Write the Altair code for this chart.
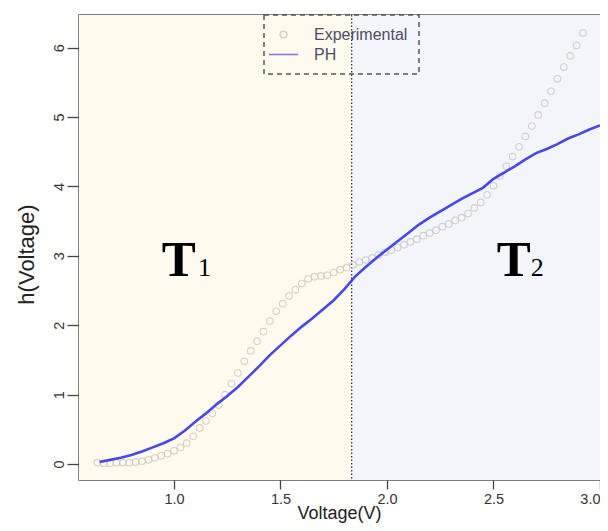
import altair as alt
import pandas as pd

# Experimental measurements
exp_v = [0.64, 0.67, 0.70, 0.73, 0.76, 0.79, 0.82, 0.85, 0.88, 0.91,
         0.94, 0.97, 1.00, 1.03, 1.06, 1.09, 1.12, 1.15, 1.18, 1.21,
         1.24, 1.27, 1.30, 1.33, 1.36, 1.39, 1.42, 1.45, 1.48, 1.51,
         1.54, 1.57, 1.60, 1.63, 1.66, 1.69, 1.72, 1.75, 1.78, 1.81,
         1.84, 1.87, 1.90, 1.93, 1.96, 1.99, 2.02, 2.05, 2.08, 2.11,
         2.14, 2.17, 2.20, 2.23, 2.26, 2.29, 2.32, 2.35, 2.38, 2.41,
         2.44, 2.47, 2.50, 2.53, 2.56, 2.59, 2.62, 2.65, 2.68, 2.71,
         2.74, 2.77, 2.80, 2.83, 2.86, 2.89, 2.92]
exp_h = [0.02, 0.01, 0.01, 0.02, 0.02, 0.02, 0.03, 0.04, 0.06, 0.09,
         0.12, 0.15, 0.19, 0.24, 0.30, 0.40, 0.52, 0.62, 0.73, 0.85,
         1.00, 1.16, 1.31, 1.48, 1.63, 1.77, 1.91, 2.06, 2.20, 2.31,
         2.42, 2.51, 2.60, 2.67, 2.70, 2.71, 2.72, 2.76, 2.80, 2.83,
         2.87, 2.91, 2.94, 2.97, 3.01, 3.05, 3.08, 3.12, 3.16, 3.20,
         3.24, 3.29, 3.33, 3.37, 3.42, 3.46, 3.51, 3.55, 3.61, 3.69,
         3.77, 3.88, 4.01, 4.15, 4.29, 4.43, 4.57, 4.72, 4.87, 5.03,
         5.20, 5.37, 5.55, 5.72, 5.88, 6.03, 6.21]

# PH model curve
ph_v = [0.65, 0.70, 0.75, 0.80, 0.85, 0.90, 0.95, 1.00,
        1.05, 1.10, 1.15, 1.20, 1.25, 1.30, 1.35, 1.40,
        1.45, 1.50, 1.55, 1.60, 1.65, 1.70, 1.75, 1.80,
        1.85, 1.90, 1.95, 2.00, 2.05, 2.10, 2.15, 2.20,
        2.25, 2.30, 2.35, 2.40, 2.45, 2.50, 2.55, 2.60,
        2.65, 2.70, 2.75, 2.80, 2.85, 2.90, 2.95, 3.00]
ph_h = [0.03, 0.06, 0.09, 0.13, 0.18, 0.24, 0.30, 0.37,
        0.48, 0.61, 0.73, 0.86, 0.98, 1.11, 1.26, 1.41,
        1.57, 1.71, 1.85, 1.98, 2.10, 2.23, 2.36, 2.52,
        2.70, 2.84, 2.97, 3.09, 3.21, 3.33, 3.45, 3.55,
        3.64, 3.73, 3.82, 3.90, 3.98, 4.11, 4.20, 4.29,
        4.39, 4.48, 4.54, 4.61, 4.69, 4.75, 4.82, 4.88]

series_names = ["Experimental", "PH"]
x_domain = [0.554, 3.0]
y_domain = [-0.23, 6.47]
split_v = 1.834
x_ticks = [1.0, 1.5, 2.0, 2.5, 3.0]
y_ticks = [0, 1, 2, 3, 4, 5, 6]

left_df = pd.DataFrame({"x0": [x_domain[0]], "x1": [split_v]})
right_df = pd.DataFrame({"x0": [split_v], "x1": [x_domain[1]]})
exp_df = pd.DataFrame({"v": exp_v, "h": exp_h, "series": "Experimental"})
ph_df = pd.DataFrame({"v": ph_v, "h": ph_h})
split_df = pd.DataFrame({"v": [split_v]})
big_df = pd.DataFrame({"v": [0.942, 2.515], "h": [2.713, 2.713], "t": ["T", "T"]})
sub_df = pd.DataFrame({"v": [1.113, 2.675], "h": [2.713, 2.713], "t": ["1", "2"]})

W, H = 521, 465
FONT = "Liberation Sans"
BLUE = "#4747EE"
GREY = "#c6c1bb"

xs = alt.Scale(domain=x_domain, nice=False, zero=False)
ys = alt.Scale(domain=y_domain, nice=False, zero=False)

x_axis = alt.Axis(values=x_ticks, format=".1f", title="Voltage(V)", grid=False,
                  domain=False, tickSize=9, tickColor="#444", tickWidth=1.3,
                  labelFontSize=14.5, labelColor="#333", labelFont=FONT,
                  labelPadding=14, labelBaseline="alphabetic", labelFlush=True,
                  titleFont=FONT, titleFontSize=18, titleFontWeight="normal",
                  titleColor="#222", titleX=260, titleY=38,
                  titleBaseline="alphabetic", titleAlign="center")
y_axis = alt.Axis(values=y_ticks, format="d", title="h(Voltage)", grid=False,
                  domain=False, tickSize=12, tickColor="#444", tickWidth=1.3,
                  labelFontSize=14.5, labelColor="#333", labelFont=FONT,
                  labelAngle=-90, labelAlign="center", labelBaseline="alphabetic",
                  labelPadding=4, labelFlush=False,
                  titleFont=FONT, titleFontSize=22, titleFontWeight="normal",
                  titleColor="#222", titleAngle=-90, titleX=-46, titleY=239,
                  titleBaseline="alphabetic", titleAlign="center")

bg_left = alt.Chart(left_df).mark_rect(color="#FFFAEE").encode(
    x=alt.X("x0:Q", scale=xs, axis=x_axis),
    x2="x1:Q",
    y=alt.value(0),
    y2=alt.value(H),
)
bg_right = alt.Chart(right_df).mark_rect(color="#F3F5FB").encode(
    x=alt.X("x0:Q", scale=xs),
    x2="x1:Q",
    y=alt.value(0),
    y2=alt.value(H),
)

vline = alt.Chart(split_df).mark_rule(color="#333", strokeDash=[1.5, 2], strokeWidth=1.3).encode(
    x=alt.X("v:Q", scale=xs),
    y=alt.value(0),
    y2=alt.value(H),
)

circle_path = "M-0.44,0A0.44,0.44,0,1,1,0.44,0A0.44,0.44,0,1,1,-0.44,0Z"
line_path = "M-1.95,0H1.95"

leg = alt.Legend(title=None, orient="none", legendX=185, legendY=0,
                 padding=11, rowPadding=3, symbolSize=225, labelOffset=22,
                 labelFont=FONT, labelFontSize=16, labelColor="#4f4c63",
                 symbolStrokeWidth=1.6, strokeColor="#555")

points = alt.Chart(exp_df).mark_point(filled=False, size=225, strokeWidth=1.1).encode(
    x=alt.X("v:Q", scale=xs),
    y=alt.Y("h:Q", scale=ys, axis=y_axis),
    color=alt.Color("series:N", scale=alt.Scale(domain=series_names,
                                                range=[GREY, BLUE]),
                    legend=leg),
    shape=alt.Shape("series:N", scale=alt.Scale(domain=series_names,
                                                range=[circle_path, line_path]),
                    legend=leg),
)

line = alt.Chart(ph_df).mark_line(color=BLUE, strokeWidth=2.6).encode(
    x=alt.X("v:Q", scale=xs),
    y=alt.Y("h:Q", scale=ys),
)

big = alt.Chart(big_df).mark_text(font="Liberation Serif", fontSize=51, fontWeight="bold",
                                  align="left", baseline="alphabetic", color="#000").encode(
    x=alt.X("v:Q", scale=xs), y=alt.Y("h:Q", scale=ys), text="t:N")
sub = alt.Chart(sub_df).mark_text(font="Liberation Serif", fontSize=26,
                                  align="left", baseline="alphabetic", color="#000").encode(
    x=alt.X("v:Q", scale=xs), y=alt.Y("h:Q", scale=ys), text="t:N")

chart = alt.layer(bg_left, bg_right, vline, points, line, big, sub).properties(
    width=W, height=H,
    padding={"left": 71, "top": 7, "right": 0, "bottom": 43},
    autosize=alt.AutoSizeParams(type="none"),
).configure_view(
    stroke="#555", strokeWidth=1.5
).configure_legend(
    strokeDash=[5, 4], strokeWidth=1.5
)

chart.save("out.html", embed_options={"renderer": "svg", "actions": False})
